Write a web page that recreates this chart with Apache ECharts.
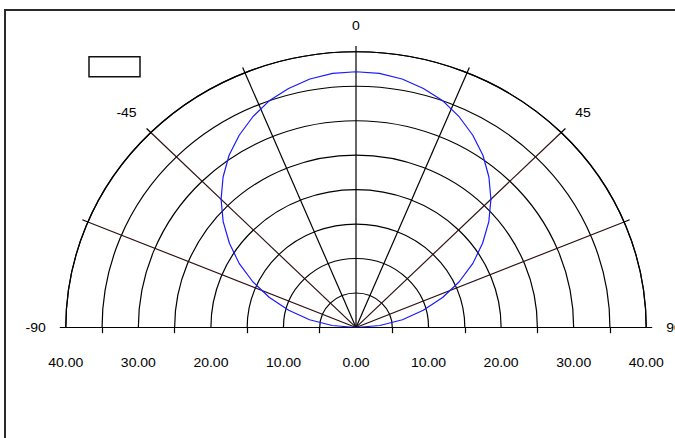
<!DOCTYPE html>
<html>
<head>
<meta charset="utf-8">
<script src="https://cdn.jsdelivr.net/npm/echarts@6/dist/echarts.min.js"></script>
<style>
html, body { margin: 0; padding: 0; overflow: hidden; background: #fff; width: 675px; height: 438px; }
#wrap { width: 675px; height: 438px; overflow: hidden; position: relative; }
#chart { width: 675px; height: 461px; transform: scaleY(0.95); transform-origin: 0 0; position: absolute; left: 0; top: 0; }
</style>
</head>
<body>
<div id="wrap"><div id="chart"></div></div>
<script>
// Angles (degrees, 0 = up, -90 = left, 90 = right)
const angles = [-90, -85, -80, -75, -70, -65, -60, -55, -50, -45, -40, -35, -30, -25, -20, -15, -10, -5,
                0, 5, 10, 15, 20, 25, 30, 35, 40, 45, 50, 55, 60, 65, 70, 75, 80, 85, 90];
// Radius values
const radii = [0.0, 3.3, 6.5, 9.6, 12.7, 15.7, 18.6, 21.3, 23.9, 26.3, 28.5, 30.5, 32.2, 33.7, 35.0, 35.9, 36.6, 37.0,
               37.1, 37.0, 36.6, 35.9, 35.0, 33.7, 32.2, 30.5, 28.5, 26.3, 23.9, 21.3, 18.6, 15.7, 12.7, 9.6, 6.5, 3.3, 0.0];
// Axis ticks
const angleLabels = [-90, -45, 0, 45, 90];
const angleStep = 22.5;
const radiusMax = 40;
const radiusRingStep = 5;
const radiusLabelStep = 10;

const chart = echarts.init(document.getElementById('chart'), null, { renderer: 'svg' });
const font = '"Liberation Sans", Arial, sans-serif';
const cx = 356, cy = 344.7, R = 290.2;
const spokeColors = ['#000', '#2e0e0e', '#2e0e0e', '#000', '#000', '#000', '#2e0e0e', '#2e0e0e', '#000'];

chart.setOption({
  animation: false,
  backgroundColor: '#fff',
  graphic: [
    { type: 'rect', shape: { x: 5, y: 10.5, width: 720, height: 520 },
      style: { fill: 'none', stroke: '#2a2a2a', lineWidth: 2 }, silent: true },
    { type: 'rect', shape: { x: 89, y: 59.7, width: 51, height: 21 },
      style: { fill: '#fff', stroke: '#111', lineWidth: 1.5 }, silent: true }
  ],
  polar: { center: [cx, cy], radius: R },
  angleAxis: {
    type: 'value',
    min: -90, max: 90, interval: angleStep,
    startAngle: 180, endAngle: 0, clockwise: true,
    axisLine: { show: true, lineStyle: { color: '#000', width: 1.2 } },
    axisTick: { show: true, length: 6, lineStyle: { color: '#000', width: 1.2 } },
    axisLabel: {
      show: true, margin: 20, color: '#000', fontSize: 14, fontFamily: font,
      formatter: v => (angleLabels.indexOf(Math.round(v * 10) / 10) >= 0 ? String(Math.round(v)) : '')
    },
    splitLine: { show: true, lineStyle: { color: spokeColors, width: 1.2 } }
  },
  radiusAxis: {
    type: 'value', min: 0, max: radiusMax, interval: radiusRingStep,
    axisLine: { show: false }, axisTick: { show: false }, axisLabel: { show: false },
    splitLine: { show: true, lineStyle: { color: '#000', width: 1.2 } }
  },
  grid: { left: cx - R, width: 2 * R, top: 0, height: cy },
  xAxis: {
    type: 'value', min: -radiusMax, max: radiusMax, interval: radiusLabelStep,
    axisLine: { show: false },
    axisTick: { show: false },
    minorTick: { show: true, splitNumber: 2, length: 6, lineStyle: { color: '#000', width: 1.2 } },
    splitLine: { show: false },
    axisLabel: { margin: 30, color: '#000', fontSize: 14, fontFamily: font,
      formatter: v => Math.abs(v).toFixed(2) }
  },
  yAxis: { type: 'value', min: 0, max: 1, show: false },
  series: [{
    type: 'line',
    coordinateSystem: 'polar',
    showSymbol: false,
    lineStyle: { color: '#1a1aff', width: 1.2 },
    itemStyle: { color: '#1a1aff' },
    data: angles.map((a, i) => [radii[i], a]),
    z: 5
  }]
});
</script>
</body>
</html>
